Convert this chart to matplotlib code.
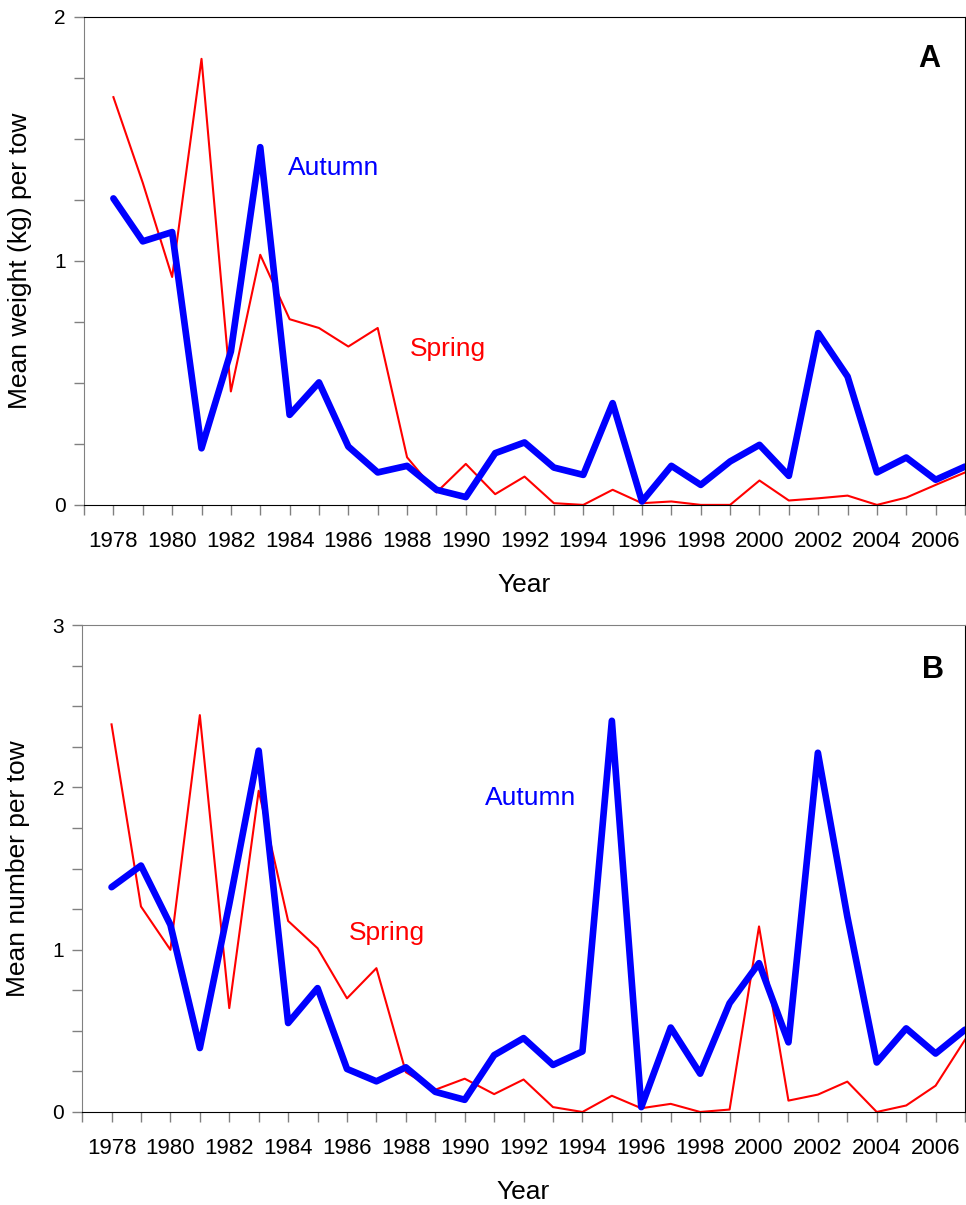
import numpy as np
import matplotlib
matplotlib.use("Agg")
import matplotlib.pyplot as plt
from matplotlib.ticker import MultipleLocator

plt.rcParams['font.family'] = ['Liberation Sans', 'DejaVu Sans']

years = np.arange(1978, 2008)

# Panel A: mean weight (kg) per tow
autumn_wt = [1.256, 1.08, 1.118, 0.232, 0.629, 1.466, 0.369, 0.502, 0.239, 0.133,
             0.160, 0.062, 0.032, 0.212, 0.256, 0.153, 0.123, 0.417, 0.014, 0.160,
             0.082, 0.178, 0.246, 0.119, 0.704, 0.526, 0.133, 0.194, 0.103, 0.157]
spring_wt = [1.671, 1.32, 0.934, 1.828, 0.465, 1.025, 0.761, 0.725, 0.649, 0.725,
             0.195, 0.051, 0.168, 0.044, 0.116, 0.007, 0.0, 0.062, 0.007, 0.014,
             0.0, 0.0, 0.10, 0.018, 0.027, 0.038, 0.0, 0.030, 0.082, 0.133]

# Panel B: mean number per tow
autumn_num = [1.385, 1.518, 1.153, 0.394, 1.28, 2.226, 0.548, 0.763, 0.265, 0.189,
              0.275, 0.124, 0.075, 0.35, 0.455, 0.29, 0.373, 2.41, 0.03, 0.52,
              0.236, 0.67, 0.917, 0.429, 2.213, 1.204, 0.305, 0.515, 0.36, 0.507]
spring_num = [2.388, 1.266, 0.999, 2.445, 0.64, 1.979, 1.177, 1.009, 0.70, 0.886,
              0.245, 0.137, 0.205, 0.11, 0.2, 0.03, 0.0, 0.1, 0.023, 0.05,
              0.0, 0.015, 1.143, 0.07, 0.107, 0.187, 0.0, 0.04, 0.162, 0.445]

blue = '#0000ff'
red = '#ff0000'
grey = '#808080'

fig = plt.figure(figsize=(9.66, 12.05), dpi=100)

def style(ax, ymax, ylabel, letter, lpos, top_col):
    ax.set_xlim(1977, 2007)
    ax.set_ylim(0, ymax)
    ax.set_xticks(np.arange(1978, 2007, 2))
    ax.xaxis.set_minor_locator(MultipleLocator(1))
    ax.yaxis.set_major_locator(MultipleLocator(1))
    ax.yaxis.set_minor_locator(MultipleLocator(0.25))
    ax.tick_params(axis='both', which='both', direction='out', length=7,
                   width=1, color=grey)
    ax.tick_params(axis='x', labelsize=16, pad=12)
    ax.tick_params(axis='y', labelsize=15, pad=6)
    ax.spines['left'].set_color(grey)
    ax.spines['bottom'].set_color('black')
    ax.spines['top'].set_color(top_col)
    ax.spines['right'].set_color('black')
    ax.set_xlabel('Year', fontsize=19, labelpad=15)
    ax.set_ylabel(ylabel, fontsize=19, labelpad=16)
    ax.text(lpos[0], lpos[1], letter, transform=ax.transAxes, fontsize=22,
            fontweight='bold', ha='center', va='center')

axA = fig.add_axes([0.087, 0.581, 0.912, 0.405])
axA.plot(years, spring_wt, color=red, lw=1.5)
axA.plot(years, autumn_wt, color=blue, lw=4.8, solid_joinstyle='round',
         solid_capstyle='round')
style(axA, 2, 'Mean weight (kg) per tow', 'A', (0.959, 0.913), 'black')
axA.text(1983.95, 1.38, 'Autumn', color=blue, fontsize=19, va='center')
axA.text(1988.1, 0.64, 'Spring', color=red, fontsize=19, va='center')

axB = fig.add_axes([0.085, 0.0772, 0.914, 0.4041])
axB.plot(years, spring_num, color=red, lw=1.5)
axB.plot(years, autumn_num, color=blue, lw=4.8, solid_joinstyle='round',
         solid_capstyle='round')
style(axB, 3, 'Mean number per tow', 'B', (0.964, 0.908), grey)
axB.text(1990.7, 1.935, 'Autumn', color=blue, fontsize=19, va='center')
axB.text(1986.05, 1.1, 'Spring', color=red, fontsize=19, va='center')

fig.savefig('out.png', dpi=100)
